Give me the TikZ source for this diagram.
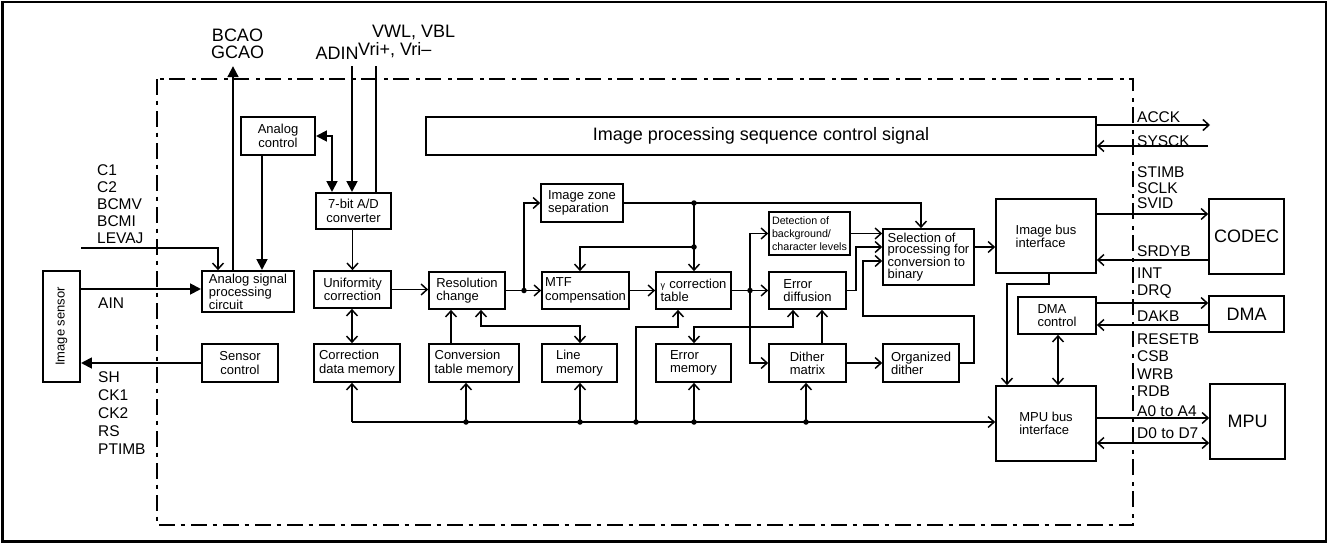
\documentclass[tikz,border=0pt]{standalone}
\usepackage{fontspec}
\setmainfont{Liberation Sans}
\usetikzlibrary{arrows.meta}
\begin{document}
\begin{tikzpicture}[x=1pt,y=-1pt,
  box/.style={draw, line width=1.7, inner sep=1, align=left, font=\fontsize{13}{13.3}\selectfont},
  boxc/.style={box, align=center},
  bigbox/.style={draw, line width=1.7, inner sep=1, align=center, font=\fontsize{18}{20}\selectfont},
  ln/.style={line width=1.5},
  ar/.style={ln, -{Straight Barb[length=6,width=11]}},
  dar/.style={ln, {Straight Barb[length=6,width=11]}-{Straight Barb[length=6,width=11]}},
  thk/.style={line width=2.8, -{Triangle[length=11,width=10.5]}},
  thkd/.style={line width=2.8, {Triangle[length=11,width=10.5]}-{Triangle[length=11,width=10.5]}},
  lbl/.style={inner sep=0, anchor=west, align=left, font=\fontsize{15.5}{17}\selectfont},
  big/.style={inner sep=0, align=center, font=\fontsize{18}{17}\selectfont},
  dot/.style={circle, fill, inner sep=0, minimum size=5.5},
]
\useasboundingbox (0,0) rectangle (1329,543);
\draw[line width=2.5] (2.5,1.8) rectangle (1326,541.5);
\draw[line width=1.6, dash pattern=on 16 off 5.5 on 4 off 6.5] (157,79) rectangle (1133,525);

% boxes
\node[boxc, minimum width=37, minimum height=111] (sensor) at (61.5,326.5) {\rotatebox{90}{Image sensor}};
\node[box, minimum width=92, minimum height=41, font=\fontsize{13}{12}\selectfont] (asp) at (248,291.5) {Analog signal\\processing\\circuit};
\node[boxc, minimum width=76, minimum height=38] (sc) at (240,363) {Sensor\\control};
\node[boxc, minimum width=74, minimum height=38] (ac) at (278,136) {Analog\\control};
\node[boxc, minimum width=75, minimum height=36] (ad) at (353.5,211) {7-bit A/D\\converter};
\node[boxc, minimum width=77, minimum height=37] (uc) at (352.5,289.5) {Uniformity\\correction};
\node[box, minimum width=86, minimum height=38] (cdm) at (357,363) {Correction\\data memory};
\node[box, minimum width=76, minimum height=37] (rc) at (467,290.5) {Resolution\\change};
\node[box, minimum width=90, minimum height=38] (ctm) at (474,363) {Conversion\\table memory};
\node[box, minimum width=75, minimum height=38] (lm) at (579.5,363) {Line\\memory};
\node[box, minimum width=87, minimum height=37] (mtf) at (585.5,290.5) {MTF\\compensation};
\node[box, minimum width=82, minimum height=38] (izs) at (582,203) {Image zone\\separation};
\node[box, minimum width=75, minimum height=37] (gct) at (693.5,290.5) {{\fontsize{9}{9}\selectfont γ}\,\,correction\\table};
\node[box, minimum width=75, minimum height=38] (em) at (693.5,363) {Error\\memory};
\node[box, minimum width=81, minimum height=43, font=\fontsize{10.7}{13}\selectfont] (det) at (809.5,233.5) {Detection of\\background/\\character levels};
\node[box, minimum width=77, minimum height=37] (ed) at (807.5,290.5) {Error\\diffusion};
\node[box, minimum width=77, minimum height=38] (dm) at (807.5,363) {Dither\\matrix};
\node[box, minimum width=76, minimum height=38] (od) at (921,363) {Organized\\dither};
\node[box, minimum width=91, minimum height=56, font=\fontsize{13}{11.7}\selectfont] (sel) at (928.5,257) {Selection of\\processing for\\conversion to\\binary};
\node[box, minimum width=100, minimum height=74] (ibi) at (1046,236) {Image bus\\interface};
\node[bigbox, minimum width=75, minimum height=75] (codec) at (1246.5,236.5) {CODEC};
\node[box, minimum width=78, minimum height=37] (dmac) at (1057,315.5) {DMA\\control};
\node[bigbox, minimum width=75, minimum height=36] (dma) at (1246.5,314) {DMA};
\node[box, minimum width=100, minimum height=75] (mbi) at (1046,423.5) {MPU bus\\interface};
\node[bigbox, minimum width=75, minimum height=75] (mpu) at (1247.5,421.5) {MPU};
\node[bigbox, minimum width=670, minimum height=38] (ips) at (761,136) {Image processing sequence control signal};

% free ends
\coordinate (bcao) at (233,66);
\coordinate (adin) at (352,66);
\coordinate (vwl) at (376,66);
\coordinate (lev) at (81,248);
\coordinate (accko) at (1210,125);
\coordinate (sysck) at (1208,146);
\coordinate (bus0) at (352,422);

% thick connectors
\draw[thk] (sensor.east |- 0,289) -- (asp.west |- 0,289);
\draw[thk] (sc.west) -- (sc.west -| sensor.east);
\draw[thk] (asp.north -| bcao) -- (bcao);
\draw[thk] (ac.south -| 262,0) -- (asp.north -| 262,0);
\draw[thkd] (ac.east) -| (ad.north -| 332,0);
\draw[thk] (adin) -- (ad.north -| adin);
\draw[ln] (vwl) -- (ad.north -| vwl);

% thin connectors
\draw[ar] (lev) -| (asp.north -| 218,0);
\draw[ar] (ad.south -| uc.north) -- (uc.north);
\draw[dar] (uc.south -| 352,0) -- (cdm.north -| 352,0);
\draw[ar] (bus0) -- (mbi.west |- bus0);
\draw[ar] (bus0) -- (cdm.south -| bus0);
\node[dot] (b466) at (466,422) {};
\node[dot] (b580) at (580,422) {};
\node[dot] (b636) at (636,422) {};
\node[dot] (b694) at (694,422) {};
\node[dot] (b806) at (806,422) {};
\draw[ar] (b466.center) -- (ctm.south -| b466);
\draw[ar] (b580.center) -- (lm.south -| b580);
\draw[ar] (b636.center) |- (678,327) -- (gct.south -| 678,0);
\draw[ar] (b694.center) -- (em.south -| b694);
\draw[ar] (b806.center) -- (dm.south -| b806);

\draw[ar] (uc.east) -- (uc.east -| rc.west);
\draw[ar] (ctm.north -| 451,0) -- (rc.south -| 451,0);
\draw[dar] (rc.south -| 481,0) |- (580,326) -- (lm.north -| 580,0);
\draw[ar] (rc.east) -- (mtf.west);
\node[dot] (j524) at (524,290.5) {};
\draw[ar] (j524.center) |- (izs.west);
\draw[ar] (izs.east) -| (sel.north -| 921,0);
\node[dot] (j694a) at (694,203) {};
\node[dot] (j694b) at (694,247) {};
\draw[ar] (j694a.center) -- (gct.north -| j694a);
\draw[ar] (j694b.center) -| (mtf.north -| 580,0);
\draw[ar] (mtf.east) -- (gct.west);
\draw[ar] (gct.east) -- (ed.west);
\node[dot] (j750) at (750,290.5) {};
\draw[ar] (j750.center) |- (det.west);
\draw[ar] (j750.center) |- (dm.west);
\draw[dar] (em.north -| 694,0) |- (793,327) -- (ed.south -| 793,0);
\draw[ar] (dm.north -| 822,0) -- (ed.south -| 822,0);
\draw[ar] (dm.east) -- (od.west);
\draw[ar] (od.east) -| (974,316) -| (863,261) -- (sel.west |- 0,261);
\draw[ar] (ed.east) -| (856,247) -- (sel.west |- 0,247);
\draw[ar] (det.east) -- (det.east -| sel.west);
\draw[ar] (sel.east |- 0,247) -- (ibi.west |- 0,247);
\draw[ar] (ibi.east |- 0,214) -- (codec.west |- 0,214);
\draw[ar] (codec.west |- 0,260) -- (ibi.east |- 0,260);
\draw[ar] (ips.east |- accko) -- (accko);
\draw[ar] (sysck) -- (ips.east |- sysck);
\draw[ar] (dmac.east |- 0,303) -- (dma.west |- 0,303);
\draw[ar] (dma.west |- 0,325) -- (dmac.east |- 0,325);
\draw[dar] (dmac.south -| 1058,0) -- (mbi.north -| 1058,0);
\draw[ar] (ibi.south -| 1049,0) |- (1007,284) -- (mbi.north -| 1007,0);
\draw[ar] (mbi.east |- 0,418) -- (mpu.west |- 0,418);
\draw[dar] (mbi.east |- 0,443) -- (mpu.west |- 0,443);

% labels
\node[big] (lbcao) at (237.5,43.5) {BCAO\\GCAO};
\node[big] (ladin) at (337,53) {ADIN};
\node[big, anchor=west] (lvwl) at (372,32) {VWL, VBL};
\node[big, anchor=west] (lvri) at (358,50) {Vri+, Vri–};
\node[lbl] (lc) at (97,204) {C1\\C2\\BCMV\\BCMI\\LEVAJ};
\node[lbl] (lain) at (98,303) {AIN};
\node[lbl, font=\fontsize{15.5}{18}\selectfont] (lsh) at (98,413) {SH\\CK1\\CK2\\RS\\PTIMB};
\node[lbl] at (1137,117) {ACCK};
\node[lbl] at (1137,141) {SYSCK};
\node[lbl] at (1137,172) {STIMB};
\node[lbl] at (1137,188) {SCLK};
\node[lbl] at (1137,203) {SVID};
\node[lbl] at (1137,251) {SRDYB};
\node[lbl] at (1137,273) {INT};
\node[lbl] at (1137,292) {DRQ};
\node[lbl] at (1137,316) {DAKB};
\node[lbl] at (1137,339) {RESETB};
\node[lbl] at (1137,356) {CSB};
\node[lbl] at (1137,374) {WRB};
\node[lbl] at (1137,391) {RDB};
\node[lbl] at (1137,411) {A0 to A4};
\node[lbl] at (1137,433) {D0 to D7};
\end{tikzpicture}
\end{document}
